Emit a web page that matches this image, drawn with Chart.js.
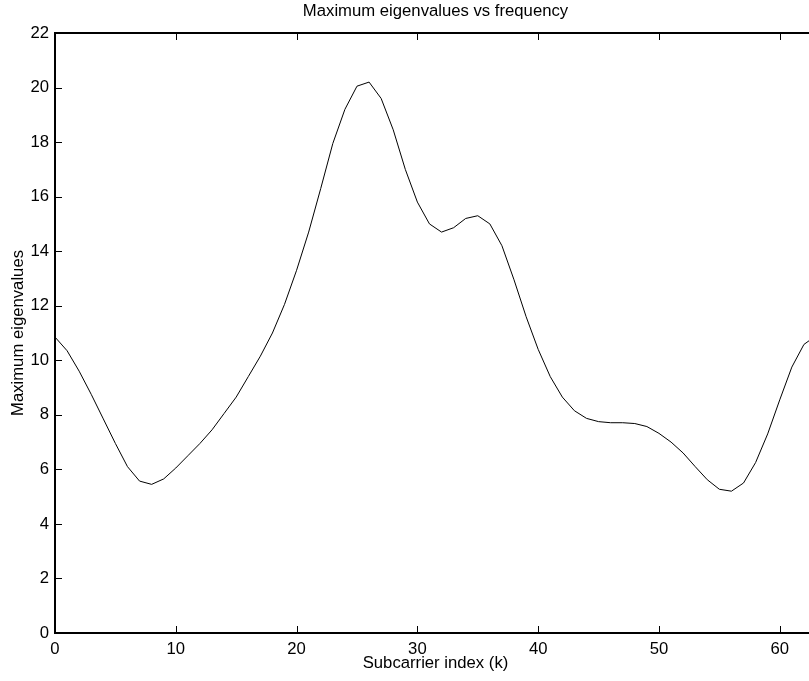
<!DOCTYPE html>
<html>
<head>
<meta charset="utf-8">
<script src="https://cdn.jsdelivr.net/npm/chart.js@4/dist/chart.umd.min.js"></script>
<style>
  html, body { margin: 0; padding: 0; background: #fff; }
  #wrap { width: 809px; height: 681px; overflow: hidden; position: relative; }
  #box { width: 830px; height: 681px; }
</style>
</head>
<body>
<div id="wrap"><div id="box"><canvas id="chartEig"></canvas></div></div>
<script>
// dados
const subcarriers = [
  0, 1, 2, 3, 4, 5, 6, 7, 8, 9, 10, 11, 12, 13, 14, 15,
  16, 17, 18, 19, 20, 21, 22, 23, 24, 25, 26, 27, 28, 29, 30, 31,
  32, 33, 34, 35, 36, 37, 38, 39, 40, 41, 42, 43, 44, 45, 46, 47,
  48, 49, 50, 51, 52, 53, 54, 55, 56, 57, 58, 59, 60, 61, 62, 63
];
const maxEigen = [
  10.85, 10.35, 9.6, 8.75, 7.85, 6.95, 6.1, 5.57, 5.45, 5.65, 6.05, 6.5, 6.95, 7.45, 8.05, 8.65,
  9.4, 10.15, 11.0, 12.05, 13.3, 14.7, 16.3, 17.95, 19.2, 20.05, 20.2, 19.6, 18.45, 17.0, 15.8, 15.0,
  14.7, 14.86, 15.2, 15.3, 15.0, 14.2, 12.95, 11.6, 10.4, 9.4, 8.65, 8.15, 7.87, 7.75, 7.71, 7.71,
  7.68, 7.57, 7.32, 7.0, 6.6, 6.1, 5.62, 5.27, 5.2, 5.5, 6.25, 7.3, 8.55, 9.75, 10.58, 10.9
];
const xTicks = [0, 10, 20, 30, 40, 50, 60];
const yTicks = [0, 2, 4, 6, 8, 10, 12, 14, 16, 18, 20, 22];

const fonte = "'Liberation Sans', Arial, Helvetica, sans-serif";

// moldura e ticks para dentro, estilo MATLAB
const caixaPlugin = {
  id: 'caixa',
  afterDraw(chart) {
    const ctx = chart.ctx;
    const a = chart.chartArea;
    const xs = chart.scales.x;
    const ys = chart.scales.y;
    const tl = 7;
    ctx.save();
    ctx.strokeStyle = '#000';
    ctx.lineWidth = 2;
    ctx.strokeRect(a.left, a.top, a.right - a.left, a.bottom - a.top);
    ctx.fillStyle = '#000';
    for (const v of xTicks) {
      const px = Math.round(xs.getPixelForValue(v));
      ctx.fillRect(px, a.bottom - tl, 1, tl);
      ctx.fillRect(px, a.top, 1, tl);
    }
    for (const v of yTicks) {
      const py = Math.round(ys.getPixelForValue(v));
      ctx.fillRect(a.left, py, tl, 1);
      ctx.fillRect(a.right - tl, py, tl, 1);
    }
    ctx.restore();
  }
};

const chartEig = document.getElementById('chartEig');
if (chartEig) {
  new Chart(chartEig, {
    type: 'line',
    data: {
      datasets: [{
        label: 'Maximum eigenvalues',
        data: subcarriers.map((k, i) => ({ x: k, y: maxEigen[i] })),
        borderColor: '#000',
        borderWidth: 1,
        pointRadius: 0,
        tension: 0,
        fill: false
      }]
    },
    options: {
      responsive: true,
      maintainAspectRatio: false,
      animation: false,
      layout: { padding: { left: 0, right: 14, top: 0, bottom: 0 } },
      plugins: {
        legend: { display: false },
        tooltip: { enabled: false },
        title: {
          display: true,
          text: 'Maximum eigenvalues vs frequency',
          fullSize: false,
          color: '#000',
          font: { family: fonte, size: 16.7, weight: 'normal' },
          padding: { top: 1, bottom: 11.96 }
        }
      },
      scales: {
        x: {
          type: 'linear',
          min: 0,
          max: 63,
          grid: { display: false, drawTicks: false },
          border: { display: false },
          afterFit: s => { s.height = 48; },
          afterBuildTicks: s => { s.ticks = xTicks.map(v => ({ value: v })); },
          ticks: { color: '#000', padding: 6, font: { family: fonte, size: 16.7 }, maxRotation: 0 },
          title: {
            display: true,
            text: 'Subcarrier index (k)',
            color: '#000',
            font: { family: fonte, size: 16.7 },
            padding: { top: 0, bottom: 8 }
          }
        },
        y: {
          min: 0,
          max: 22,
          grid: { display: false, drawTicks: false },
          border: { display: false },
          afterFit: s => { s.width = 55; },
          afterBuildTicks: s => { s.ticks = yTicks.map(v => ({ value: v })); },
          ticks: { color: '#000', padding: 6, font: { family: fonte, size: 16.7 } },
          title: {
            display: true,
            text: 'Maximum eigenvalues',
            color: '#000',
            font: { family: fonte, size: 16.7 },
            padding: { top: 8, bottom: 0 }
          }
        }
      }
    },
    plugins: [caixaPlugin]
  });
}
</script>
</body>
</html>
